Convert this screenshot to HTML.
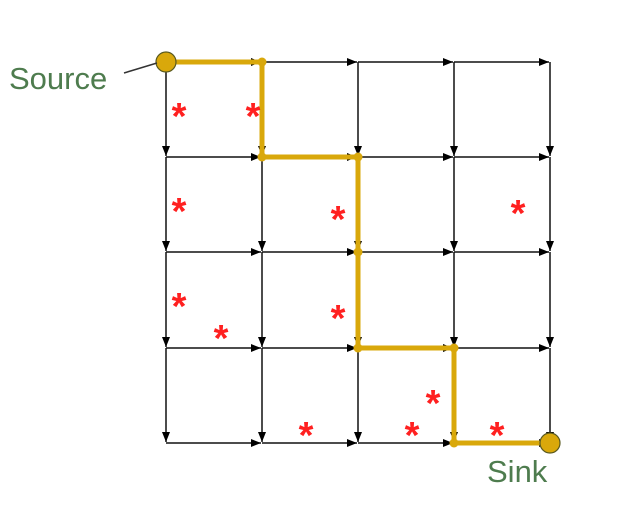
<!DOCTYPE html>
<html><head><meta charset="utf-8"><style>
html,body{margin:0;padding:0;background:#fff;}
svg{display:block;}
</style></head><body>
<svg id="chart" width="624" height="508" viewBox="0 0 624 508" xmlns="http://www.w3.org/2000/svg">
<defs>
<marker id="ah" viewBox="0 0 10 10" refX="10" refY="5" markerWidth="10" markerHeight="10" markerUnits="userSpaceOnUse" orient="auto"><path d="M0,1 L10,5 L0,9 z" fill="#000"/></marker>
</defs>
<g id="edges"></g>
<g id="path"></g>
<g id="stars"></g>
<line x1="124" y1="73" x2="157" y2="63" stroke="#333" stroke-width="1.5"/>
<text x="9" y="89" font-family="Liberation Sans, sans-serif" font-size="31" fill="#4e7c4e">Source</text>
<text x="487" y="482" font-family="Liberation Sans, sans-serif" font-size="31" fill="#4e7c4e">Sink</text>
</svg>
<script>
const colX = [166, 262, 358, 454, 550];
const rowY = [62, 157, 252, 348, 443];
const pathNodes = [[0,0],[1,0],[1,1],[2,1],[2,2],[2,3],[3,3],[3,4],[4,4]];
const starPts = [[179,113],[253,113],[179,208],[338,216],[518,210],[179,303],[221,335],[338,315],[433,400],[412,432],[306,432],[497,432]];
const NS = 'http://www.w3.org/2000/svg';
const edges = document.getElementById('edges');
function ln(g, x1,y1,x2,y2, attrs){const l=document.createElementNS(NS,'line');l.setAttribute('x1',x1);l.setAttribute('y1',y1);l.setAttribute('x2',x2);l.setAttribute('y2',y2);for(const k in attrs)l.setAttribute(k,attrs[k]);g.appendChild(l);return l;}
for(let r=0;r<rowY.length;r++){for(let c=0;c<colX.length;c++){
 if(c<colX.length-1){const l=ln(edges,colX[c],rowY[r],colX[c+1]-1,rowY[r],{stroke:'#111','stroke-width':1.5,'marker-end':'url(#ah)'});
 
 }
 if(r<rowY.length-1){const l=ln(edges,colX[c],rowY[r],colX[c],rowY[r+1]-1,{stroke:'#111','stroke-width':1.5,'marker-end':'url(#ah)'});
 
 }
}}
const pg=document.getElementById('path');
for(let i=0;i<pathNodes.length-1;i++){const a=pathNodes[i],b=pathNodes[i+1];
 const l=ln(pg,colX[a[0]],rowY[a[1]],colX[b[0]],rowY[b[1]],{stroke:'#d9a80b','stroke-width':5,'stroke-linecap':'square'});
 
 
 const t=document.createElementNS(NS,'circle');t.setAttribute('cx',colX[b[0]]);t.setAttribute('cy',rowY[b[1]]);t.setAttribute('r',4.5);t.setAttribute('fill','#d9a80b');pg.appendChild(t);
 
 
}
function node(c,r,name){const ci=document.createElementNS(NS,'circle');ci.setAttribute('cx',colX[c]);ci.setAttribute('cy',rowY[r]);ci.setAttribute('r',10);ci.setAttribute('fill','#d9a80b');ci.setAttribute('stroke','#5a5a20');ci.setAttribute('stroke-width',1.2);pg.appendChild(ci);
 
 }
node(0,0,'source-node');node(4,4,'sink-node');
const sg=document.getElementById('stars');
starPts.forEach(p=>{const t=document.createElementNS(NS,'text');t.setAttribute('x',p[0]);t.setAttribute('y',p[1]+16);t.setAttribute('text-anchor','middle');t.setAttribute('font-family','Liberation Sans, sans-serif');t.setAttribute('font-size','38');t.setAttribute('font-weight','bold');t.setAttribute('fill','#ff2020');t.textContent='*';sg.appendChild(t);
 
 });
</script>
</body></html>
